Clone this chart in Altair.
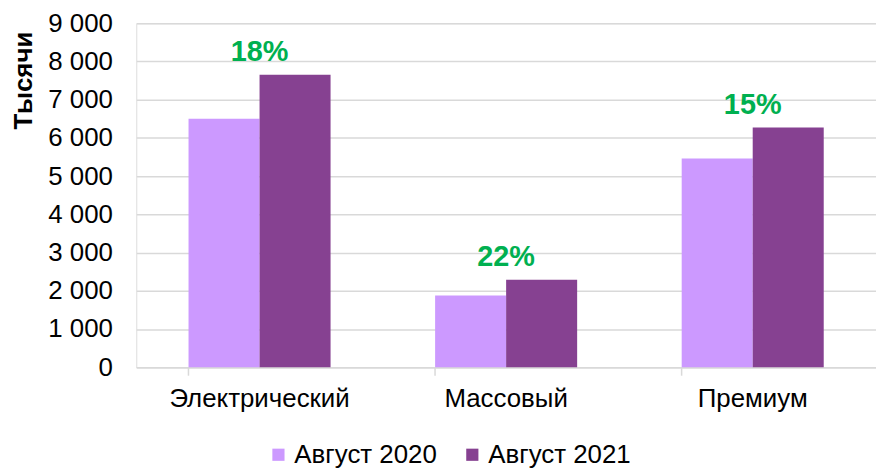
import altair as alt
import pandas as pd

categories = ["Электрический", "Массовый", "Премиум"]
series = ["Август 2020", "Август 2021"]
values_2020 = [6500, 1880, 5460]
values_2021 = [7650, 2290, 6270]
growth_labels = ["18%", "22%", "15%"]
colors = ["#CC99FF", "#864191"]

rows = []
for c, v in zip(categories, values_2020):
    rows.append({"cat": c, "series": series[0], "value": v})
for c, v in zip(categories, values_2021):
    rows.append({"cat": c, "series": series[1], "value": v})
df = pd.DataFrame(rows)
lab = pd.DataFrame({"cat": categories, "value": values_2021, "label": growth_labels})

FONT = "Liberation Sans"
FS = 26

x = alt.X("cat:N", sort=categories, title=None,
          scale=alt.Scale(paddingInner=0.424, paddingOuter=0.212),
          axis=alt.Axis(labelAngle=0, labelFontSize=FS, labelFont=FONT, labelColor="#000000",
                        labelPadding=10, bandPosition=0, ticks=True, tickSize=8,
                        tickColor="#D9D9D9", tickWidth=1.5, domainColor="#D9D9D9",
                        domainWidth=1.5, grid=False, labelOverlap=False, labelLimit=400))
y = alt.Y("value:Q", title="Тысячи",
          scale=alt.Scale(domain=[0, 9000], nice=False),
          axis=alt.Axis(values=list(range(0, 9001, 1000)),
                        labelExpr="replace(format(datum.value, ',d'), ',', ' ')",
                        labelFontSize=FS, labelFont=FONT, labelColor="#000000",
                        labelPadding=24, ticks=False, domain=False,
                        labelOverlap=False, labelFlush=False,
                        gridColor="#D9D9D9", gridWidth=1.5,
                        titleFontSize=FS, titleFont=FONT, titleFontWeight="bold",
                        titleColor="#000000", titleAngle=-90, titleAlign="right",
                        titleBaseline="middle", titleX=-113, titleY=8))

bars = alt.Chart(df).mark_bar().encode(
    x=x,
    xOffset=alt.XOffset("series:N", sort=series, scale=alt.Scale(paddingInner=0, paddingOuter=0)),
    y=y,
    color=alt.Color("series:N", sort=series,
                    scale=alt.Scale(domain=series, range=colors),
                    legend=alt.Legend(title=None, orient="none", direction="horizontal",
                                      legendX=130, legendY=421,
                                      labelFontSize=FS, labelFont=FONT, labelColor="#000000",
                                      symbolType="square", symbolSize=150,
                                      symbolStrokeWidth=0, labelOffset=3,
                                      columnPadding=22)),
)

texts = alt.Chart(lab).mark_text(font=FONT, fontSize=29, fontWeight="bold",
                                 color="#00B050", dy=-23, baseline="middle").encode(
    x=x,
    y=y,
    text="label:N",
)

chart = alt.layer(bars, texts).properties(
    width=744, height=346,
    autosize=alt.AutoSizeParams(type="none"),
    padding={"left": 129, "top": 14, "right": 0, "bottom": 100},
).configure_view(stroke=None).configure(background="#FFFFFF")

chart.save("out.html", embed_options={"renderer": "svg", "actions": False})
